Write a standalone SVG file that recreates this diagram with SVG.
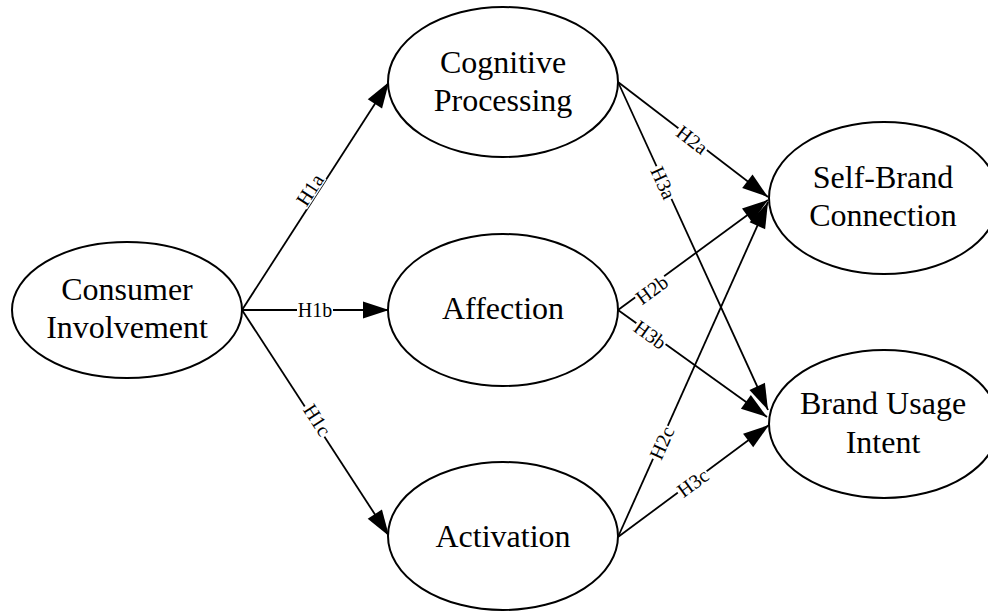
<svg xmlns="http://www.w3.org/2000/svg" width="988" height="611" viewBox="0 0 988 611">
<style>
.node ellipse{fill:#fff;stroke:#000;stroke-width:2}
.node text{font-family:'Liberation Serif','DejaVu Serif',serif;font-size:32px;fill:#000;text-anchor:middle}
.edge line{stroke:#000;stroke-width:1.8;marker-end:url(#ah)}
.lbl text{font-family:'Liberation Serif','DejaVu Serif',serif;font-size:20px;fill:#000;text-anchor:middle}
.lbl rect{fill:#fff}
</style>
<defs>
<marker id="ah" markerUnits="userSpaceOnUse" markerWidth="28" markerHeight="20" refX="27" refY="10" orient="auto">
<path d="M1,1.5 L27,10 L1,18.5 z" fill="#000"/>
</marker>
</defs>
<rect width="988" height="611" fill="#fff"/>
<g id="connectors" class="edge">
<line x1="242" y1="310" x2="389" y2="82"/>
<line x1="242" y1="310" x2="389" y2="310"/>
<line x1="242" y1="310" x2="389" y2="536"/>
<line x1="618" y1="82" x2="768" y2="197"/>
<line x1="618" y1="82" x2="768" y2="410"/>
<line x1="618" y1="310" x2="768" y2="200"/>
<line x1="618" y1="310" x2="767" y2="417"/>
<line x1="618" y1="537" x2="768" y2="202"/>
<line x1="618" y1="537" x2="769" y2="425"/>
</g>
<g id="labels">
<g class="lbl" transform="translate(310,190) rotate(-57)"><rect x="-18" y="-8" width="36" height="16"/><text dy="0.33em">H1a</text></g>
<g class="lbl" transform="translate(315,310)"><rect x="-18" y="-8" width="36" height="16"/><text dy="0.33em">H1b</text></g>
<g class="lbl" transform="translate(317,420) rotate(57)"><rect x="-18" y="-8" width="36" height="16"/><text dy="0.33em">H1c</text></g>
<g class="lbl" transform="translate(692,140) rotate(37.5)"><rect x="-18" y="-8" width="36" height="16"/><text dy="0.33em">H2a</text></g>
<g class="lbl" transform="translate(663,183) rotate(65.4)"><rect x="-18" y="-8" width="36" height="16"/><text dy="0.33em">H3a</text></g>
<g class="lbl" transform="translate(652,290) rotate(-36)"><rect x="-18" y="-8" width="36" height="16"/><text dy="0.33em">H2b</text></g>
<g class="lbl" transform="translate(650,335) rotate(35.7)"><rect x="-18" y="-8" width="36" height="16"/><text dy="0.33em">H3b</text></g>
<g class="lbl" transform="translate(662,443) rotate(-65.9)"><rect x="-18" y="-8" width="36" height="16"/><text dy="0.33em">H2c</text></g>
<g class="lbl" transform="translate(693,483) rotate(-36.4)"><rect x="-18" y="-8" width="36" height="16"/><text dy="0.33em">H3c</text></g>
</g>
<g id="consumer-involvement" class="node">
<ellipse cx="127" cy="310" rx="115" ry="68"/>
<text x="127" y="300">Consumer</text>
<text x="127" y="338">Involvement</text>
</g>
<g id="cognitive-processing" class="node">
<ellipse cx="503" cy="82" rx="115" ry="75"/>
<text x="503" y="73">Cognitive</text>
<text x="503" y="111">Processing</text>
</g>
<g id="affection" class="node">
<ellipse cx="503" cy="310" rx="115" ry="76"/>
<text x="503" y="319">Affection</text>
</g>
<g id="activation" class="node">
<ellipse cx="503" cy="536" rx="115" ry="74"/>
<text x="503" y="547">Activation</text>
</g>
<g id="self-brand-connection" class="node">
<ellipse cx="884" cy="198" rx="115" ry="76"/>
<text x="883" y="188">Self-Brand</text>
<text x="883" y="226">Connection</text>
</g>
<g id="brand-usage-intent" class="node">
<ellipse cx="884" cy="424" rx="115" ry="74"/>
<text x="883" y="414">Brand Usage</text>
<text x="883" y="453">Intent</text>
</g>
</svg>
